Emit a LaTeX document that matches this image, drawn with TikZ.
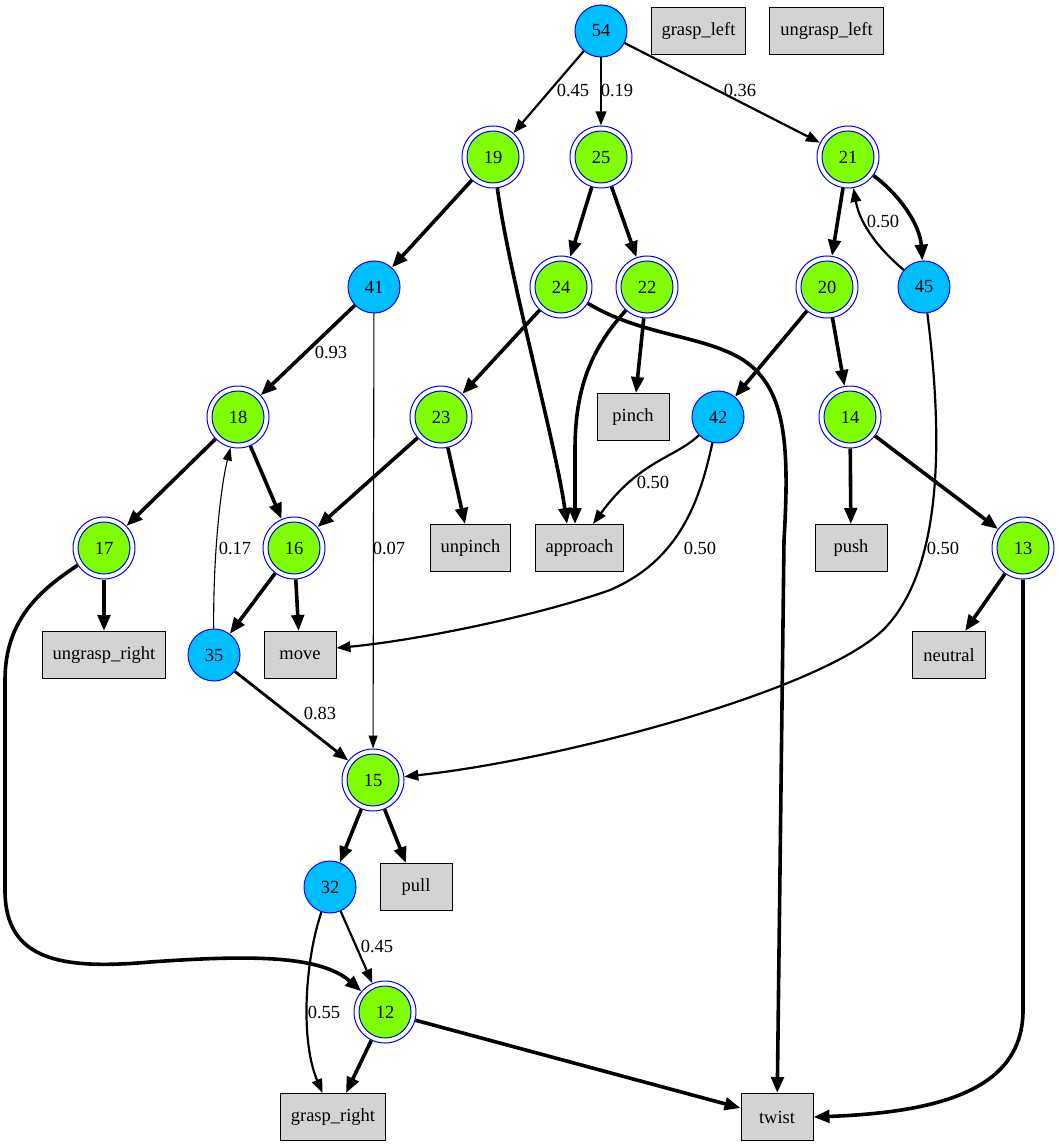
\documentclass[tikz,border=0pt]{standalone}
\usepackage{fontspec}
\setmainfont{Liberation Serif}
\usetikzlibrary{arrows.meta}
\definecolor{hubfill}{RGB}{0,191,255}
\definecolor{goalfill}{RGB}{127,255,0}
\definecolor{actfill}{RGB}{211,211,211}

\begin{document}
\begin{tikzpicture}[x=1pt,y=-1pt,
  every node/.style={font=\fontsize{18.5}{20}\selectfont},
  hub/.style={circle, draw=blue, fill=hubfill, line width=1pt, minimum size=52pt, inner sep=0pt},
  goal/.style={circle, draw=blue, line width=1pt, minimum size=62pt, inner sep=0pt,
    path picture={\draw[blue, line width=1pt, fill=goalfill]
      (path picture bounding box.center) circle[radius=26pt];}},
  act/.style={rectangle, draw=black, fill=actfill, line width=1pt,
    minimum height=47pt, minimum width=72pt, inner xsep=10.5pt},
  edgeheavy/.style={line width=3.6pt, -{Triangle[length=16pt,width=12.5pt]}},
  edgemid/.style={line width=2.2pt, -{Triangle[length=14pt,width=10.5pt]}},
  edgelight/.style={line width=1.1pt, -{Triangle[length=13pt,width=9pt]}},
  prob/.style={inner sep=1pt}
]
\useasboundingbox (0,0) rectangle (1059,1147);

% nodes
\node[hub] (n54) at (601,31) {54};
\node[act] (graspL) at (698.5,31) {grasp\_left};
\node[act] (ungraspL) at (826.5,31) {ungrasp\_left};
\node[goal] (n19) at (493,157) {19};
\node[goal] (n25) at (601,157) {25};
\node[goal] (n21) at (848,157) {21};
\node[goal] (n24) at (561,287) {24};
\node[goal] (n22) at (647,287) {22};
\node[hub] (n41) at (374,287) {41};
\node[goal] (n20) at (827,287) {20};
\node[hub] (n45) at (924,287) {45};
\node[goal] (n18) at (238,417) {18};
\node[goal] (n23) at (441,417) {23};
\node[act] (pinch) at (633,417) {pinch};
\node[hub] (n42) at (718,417) {42};
\node[goal] (n14) at (850,417) {14};
\node[goal] (n17) at (104,548) {17};
\node[goal] (n16) at (294,548) {16};
\node[act] (unpinch) at (470.5,548) {unpinch};
\node[act] (approach) at (579.5,548) {approach};
\node[act] (push) at (851,548) {push};
\node[goal] (n13) at (1023,548) {13};
\node[act] (ungraspR) at (104,655) {ungrasp\_right};
\node[hub] (n35) at (214,655) {35};
\node[act] (move) at (300,655) {move};
\node[act] (neutral) at (949,655) {neutral};
\node[goal] (n15) at (373,780) {15};
\node[hub] (n32) at (330,887) {32};
\node[act] (pull) at (416,887) {pull};
\node[goal] (n12) at (385,1012) {12};
\node[act] (graspR) at (333,1117) {grasp\_right};
\node[act] (twist) at (777,1117) {twist};

% edges
\draw[edgemid] (n54) -- (n19);
\draw[edgemid] (n54) -- (n25);
\draw[edgemid] (n54) -- (n21);
\node[prob] (p5419) at (573,90) {0.45};
\node[prob] (p5425) at (617,90) {0.19};
\node[prob] (p5421) at (740,90) {0.36};

\draw[edgeheavy] (n19) -- (n41);
\draw[edgeheavy] (n19) .. controls (510,280) and (555,440) .. ([xshift=-12.5pt]approach.north);
\draw[edgeheavy] (n25) -- (n24);
\draw[edgeheavy] (n25) -- (n22);
\draw[edgeheavy] (n24) -- (n23);
\draw[edgeheavy] (n24) .. controls (640,335) and (700,335) .. (740,358)
  .. controls (785,385) and (790,440) .. (784,540) -- (twist);
\draw[edgeheavy] (n22) .. controls (590,350) and (575,390) .. (575,450) -- ([xshift=-4.5pt]approach.north);
\draw[edgeheavy] (n22) -- ([xshift=3pt]pinch.north);

\draw[edgeheavy] (n21) -- (n20);
\draw[edgeheavy] (n21) .. controls (900,195) and (920,225) .. (n45);
\draw[edgemid] (n45) .. controls (880,250) and (860,225) .. (n21);
\node[prob] (p4521) at (883,221) {0.50};
\draw[edgeheavy] (n20) -- (n42);
\draw[edgeheavy] (n20) -- (n14);
\draw[edgemid] (n45) .. controls (942,430) and (945,565) .. (885,628)
  .. controls (825,690) and (560,760) .. (n15);
\node[prob] (p4515) at (943,548) {0.50};

\draw[edgeheavy] (n41) -- (n18);
\node[prob] (p4118) at (331,352) {0.93};
\draw[edgelight] (n41) -- (n15);
\node[prob] (p4115) at (389,548) {0.07};

\draw[edgeheavy] (n18) -- (n17);
\draw[edgeheavy] (n18) -- (n16);
\draw[edgeheavy] (n23) -- (n16);
\draw[edgeheavy] (n23) -- ([xshift=-5.5pt]unpinch.north);

\draw[edgemid] (n42) .. controls (675,458) and (640,460) .. ([xshift=13.5pt]approach.north);
\node[prob] (p42a) at (653,482) {0.50};
\draw[edgemid] (n42) .. controls (700,500) and (680,560) .. (610,590)
  .. controls (540,615) and (420,640) .. ([yshift=7pt]move.east);
\node[prob] (p42m) at (700,548) {0.50};

\draw[edgeheavy] (n14) -- (push);
\draw[edgeheavy] (n14) -- (n13);
\draw[edgeheavy] (n17) -- (ungraspR);
\draw[edgeheavy] (n17) .. controls (40,590) and (5,620) .. (5,680) -- (5,890)
  .. controls (5,960) and (60,970) .. (150,962)
  .. controls (250,955) and (320,955) .. (n12);
\draw[edgeheavy] (n16) -- (n35);
\draw[edgeheavy] (n16) -- (move);
\draw[edgelight] (n35) .. controls (213,560) and (220,490) .. (n18);
\node[prob] (p3518) at (235,548) {0.17};
\draw[line width=2.8pt, -{Triangle[length=15pt,width=11.5pt]}] (n35) -- (n15);
\node[prob] (p3515) at (320,713) {0.83};

\draw[edgeheavy] (n13) -- ([xshift=16pt]neutral.north);
\draw[edgeheavy] (n13.south) -- (1023,1010) .. controls (1023,1085) and (950,1112) .. (twist.east);

\draw[edgeheavy] (n15) -- (n32);
\draw[edgeheavy] (n15) -- ([xshift=-10pt]pull.north);
\draw[edgemid] (n32) -- (n12);
\node[prob] (p3212) at (377,946) {0.45};
\draw[edgemid] (n32) .. controls (305,960) and (300,1040) .. ([xshift=-10.5pt]graspR.north);
\node[prob] (p32g) at (324,1012) {0.55};
\draw[edgeheavy] (n12) -- ([xshift=13pt]graspR.north);
\draw[edgeheavy] (n12) -- ([yshift=9pt]twist.west);
\end{tikzpicture}
\end{document}
